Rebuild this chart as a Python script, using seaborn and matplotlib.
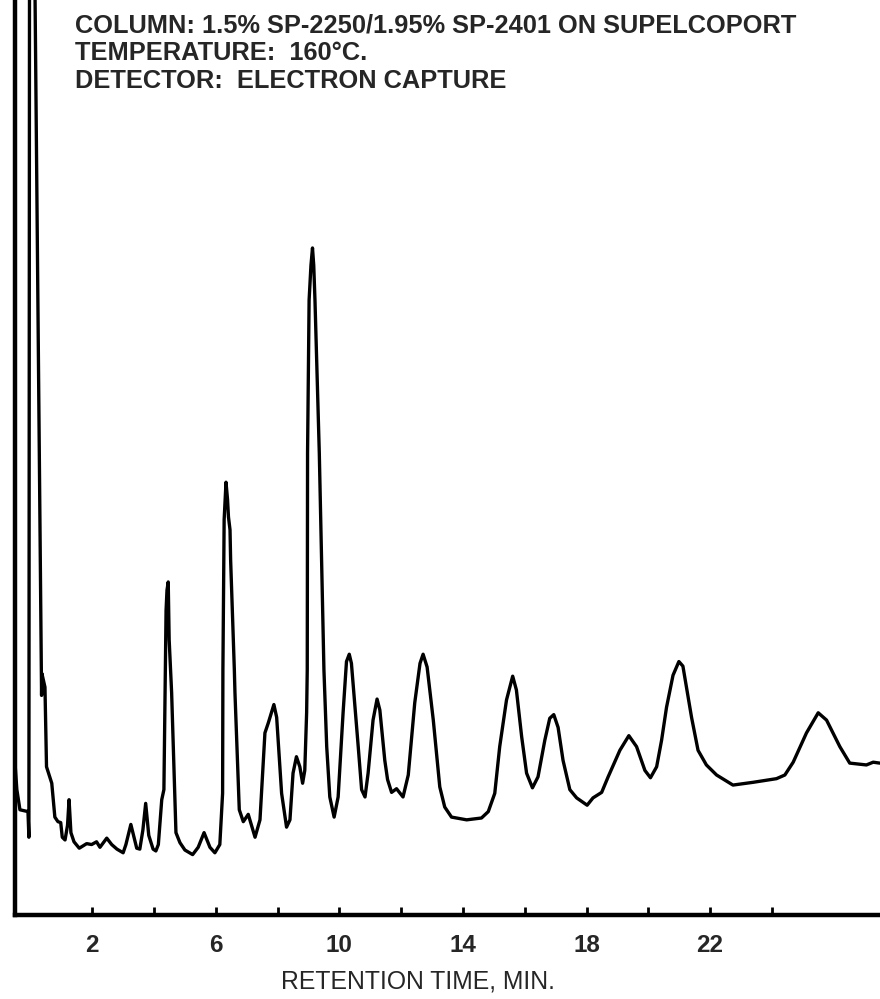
import numpy as np
import pandas as pd
import seaborn as sns
import matplotlib.pyplot as plt
import matplotlib.ticker as ticker

# detector trace: retention time (min) and response (% of full scale)
time_min = [-0.50, -0.44, -0.34, -0.08, -0.05, -0.03, 0.13, 0.15, 0.36, 0.37,
            0.47, 0.52, 0.69, 0.79, 0.89, 0.98, 1.03, 1.12, 1.20, 1.25,
            1.31, 1.41, 1.58, 1.82, 1.98, 2.14, 2.25, 2.47, 2.63, 2.80,
            3.00, 3.09, 3.25, 3.44, 3.54, 3.64, 3.73, 3.83, 3.97, 4.06,
            4.14, 4.25, 4.32, 4.39, 4.42, 4.46, 4.49, 4.57, 4.71, 4.84,
            5.00, 5.25, 5.43, 5.62, 5.81, 5.97, 6.13, 6.22, 6.23, 6.27,
            6.33, 6.38, 6.41, 6.46, 6.48, 6.60, 6.62, 6.76, 6.89, 7.05,
            7.27, 7.43, 7.59, 7.70, 7.88, 7.97, 8.13, 8.29, 8.40, 8.50,
            8.61, 8.72, 8.81, 8.88, 8.94, 8.96, 8.97, 9.02, 9.08, 9.13,
            9.17, 9.21, 9.35, 9.50, 9.59, 9.69, 9.83, 9.96, 10.12, 10.23,
            10.32, 10.39, 10.61, 10.72, 10.83, 10.93, 11.09, 11.22, 11.31, 11.47,
            11.56, 11.69, 11.85, 12.06, 12.23, 12.44, 12.61, 12.71, 12.84, 13.04,
            13.25, 13.41, 13.63, 14.12, 14.60, 14.82, 15.03, 15.19, 15.41, 15.61,
            15.73, 15.90, 16.06, 16.25, 16.43, 16.65, 16.81, 16.94, 17.08, 17.24,
            17.46, 17.68, 17.89, 18.02, 18.21, 18.49, 18.70, 19.08, 19.37, 19.62,
            19.89, 20.07, 20.27, 20.43, 20.59, 20.80, 20.99, 21.12, 21.21, 21.40,
            21.61, 21.88, 22.21, 22.74, 23.39, 24.15, 24.42, 24.69, 25.12, 25.50,
            25.77, 26.20, 26.52, 27.06, 27.28, 27.49]
response = [16.6, 13.7, 11.5, 11.3, 8.5, 105, 105, 100, 24.0, 26.4,
            24.9, 16.2, 14.4, 10.7, 10.2, 10.1, 8.5, 8.2, 9.8, 12.6,
            9.0, 8.0, 7.3, 7.8, 7.7, 8.0, 7.4, 8.4, 7.7, 7.2,
            6.8, 7.7, 9.9, 7.3, 7.2, 9.3, 12.2, 8.7, 7.2, 7.0,
            7.7, 12.6, 13.7, 33.3, 35.5, 36.4, 30.1, 24.3, 9.0, 7.9,
            7.1, 6.6, 7.4, 9.0, 7.4, 6.8, 7.7, 13.3, 26.8, 43.2,
            47.3, 45.4, 43.5, 42.1, 38.8, 26.8, 24.3, 11.5, 10.2, 11.0,
            8.5, 10.4, 19.9, 21.0, 23.0, 21.6, 13.3, 9.6, 10.4, 15.5,
            17.3, 16.2, 14.4, 15.8, 22.1, 26.8, 50.5, 67.2, 71.0, 72.9,
            71.0, 67.2, 50.5, 26.8, 18.4, 12.9, 10.7, 12.9, 22.1, 27.7,
            28.5, 27.5, 18.4, 13.7, 12.9, 15.5, 21.3, 23.6, 22.4, 16.9,
            14.8, 13.4, 13.8, 12.9, 15.3, 23.2, 27.5, 28.5, 27.1, 21.3,
            14.0, 11.8, 10.7, 10.4, 10.6, 11.3, 13.3, 18.4, 23.5, 26.1,
            24.6, 19.5, 15.5, 13.9, 15.1, 19.1, 21.5, 21.9, 20.5, 16.9,
            13.7, 12.8, 12.3, 12.0, 12.8, 13.4, 15.1, 18.0, 19.6, 18.4,
            15.8, 15.0, 16.2, 19.1, 22.7, 26.2, 27.7, 27.2, 25.4, 21.6,
            18.0, 16.4, 15.3, 14.2, 14.5, 14.9, 15.3, 16.7, 19.9, 22.1,
            21.3, 18.4, 16.6, 16.4, 16.7, 16.6]

tick_major = [2, 6, 10, 14, 18, 22]
tick_minor = [4, 8, 12, 16, 20, 24]
notes = ['COLUMN: 1.5% SP-2250/1.95% SP-2401 ON SUPELCOPORT',
         'TEMPERATURE:  160°C.',
         'DETECTOR:  ELECTRON CAPTURE']

sns.set_style('ticks')
plt.rcParams['font.family'] = ['Liberation Sans', 'DejaVu Sans']

df = pd.DataFrame({'time': time_min, 'response': response})

fig = plt.figure(figsize=(8.8, 9.99), dpi=100)
ax = fig.add_axes([15 / 880, 84 / 999, 865 / 880, 915 / 999])
sns.lineplot(data=df, x='time', y='response', sort=False, estimator=None,
             color='black', linewidth=2.4, ax=ax)

ax.set_xlim(-0.5, 27.5)
ax.set_ylim(0, 100)
sns.despine(ax=ax)
for side in ['left', 'bottom']:
    ax.spines[side].set_linewidth(3.2)
    ax.spines[side].set_color('black')

ax.xaxis.set_major_locator(ticker.FixedLocator(tick_major))
ax.xaxis.set_minor_locator(ticker.FixedLocator(tick_minor))
ax.set_xticklabels([str(t) for t in tick_major], fontsize=17.5, fontweight='bold')
ax.tick_params(axis='x', which='both', direction='in', length=6, width=2,
               color='black', pad=14)
ax.set_yticks([])
ax.set_ylabel('')
ax.set_xlabel('RETENTION TIME, MIN.', fontsize=17.8)
ax.xaxis.set_label_coords(0.466, -0.06)
ax.xaxis.label.set_verticalalignment('top')

for txt, y in zip(notes, [0.965, 0.934, 0.904]):
    ax.text(0.069, y, txt, transform=ax.transAxes, fontsize=18.3,
            fontweight='bold', va='baseline', ha='left')

fig.savefig('out.png', dpi=100)
